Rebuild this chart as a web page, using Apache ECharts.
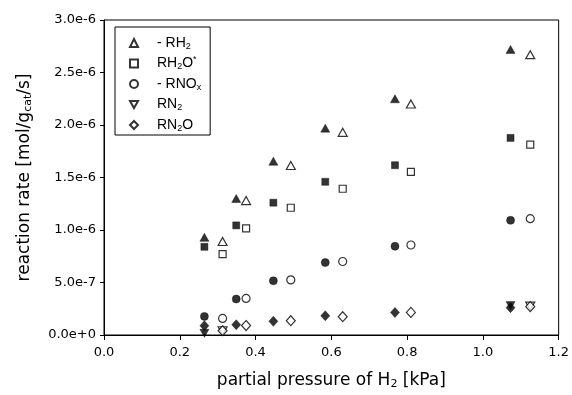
<!DOCTYPE html>
<html><head><meta charset="utf-8">
<script src="https://cdn.jsdelivr.net/npm/echarts@6/dist/echarts.min.js"></script>
<style>html,body{margin:0;padding:0;background:#fff}#c{width:572px;height:395px}</style>
</head><body><div id="c"></div>
<script>
// x positions (partial pressure of H2, kPa)
const xFilled = [0.265, 0.349, 0.447, 0.584, 0.768, 1.073];
const xOpen   = [0.313, 0.375, 0.493, 0.630, 0.810, 1.125];

// reaction rates (mol/gcat/s)
const rh2Filled  = [0.93e-6, 1.30e-6, 1.655e-6, 1.97e-6, 2.25e-6, 2.72e-6];
const rh2Open    = [0.89e-6, 1.28e-6, 1.614e-6, 1.93e-6, 2.20e-6, 2.67e-6];
const rh2oFilled = [0.84e-6, 1.044e-6, 1.26e-6, 1.459e-6, 1.617e-6, 1.877e-6];
const rh2oOpen   = [0.77e-6, 1.016e-6, 1.212e-6, 1.393e-6, 1.554e-6, 1.813e-6];
const rnoxFilled = [0.177e-6, 0.342e-6, 0.516e-6, 0.69e-6, 0.845e-6, 1.092e-6];
const rnoxOpen   = [0.158e-6, 0.348e-6, 0.525e-6, 0.70e-6, 0.857e-6, 1.108e-6];
const rn2oFilled = [0.088e-6, 0.098e-6, 0.13e-6, 0.183e-6, 0.215e-6, 0.26e-6];
const rn2oOpen   = [0.041e-6, 0.09e-6, 0.136e-6, 0.174e-6, 0.215e-6, 0.27e-6];
const rn2FilledX = [0.265, 1.073];
const rn2Filled  = [0.016e-6, 0.28e-6];
const rn2OpenX   = [0.313, 1.125];
const rn2Open    = [0.04e-6, 0.275e-6];

const xTickLabels = ['0.0', '0.2', '0.4', '0.6', '0.8', '1.0', '1.2'];
const yTickLabels = ['0.0e+0', '5.0e-7', '1.0e-6', '1.5e-6', '2.0e-6', '2.5e-6', '3.0e-6'];

const legendLabels = {
  rh2: '- RH{s|2}',
  rh2o: 'RH{s|2}O{p|*}',
  rnox: '- RNO{s|x}',
  rn2: 'RN{s|2}',
  rn2o: 'RN{s|2}O'
};

const FONT = 'Liberation Sans, Arial, Helvetica, sans-serif';
const AXFONT = 'DejaVu Sans, Liberation Sans, sans-serif';
const pairs = (xs, ys) => xs.map((x, i) => [x, ys[i]]);

const openStyle = { color: '#fff', borderColor: '#000', borderWidth: 1.2 };
const fillStyle = { color: '#000', borderColor: '#000', borderWidth: 0.5 };
const DOWN_TRI = 'path://M0,0 L10,0 L5,9 Z';

function sc(name, data, symbol, size, filled) {
  return {
    type: 'scatter', name: name, data: data, symbol: symbol, symbolSize: size,
    itemStyle: filled ? fillStyle : openStyle,
    emphasis: { disabled: true }, z: filled ? 3 : 4
  };
}

const series = [
  sc('rh2', pairs(xOpen, rh2Open), 'triangle', [9, 8], false),
  sc('rh2o', pairs(xOpen, rh2oOpen), 'rect', 7, false),
  sc('rnox', pairs(xOpen, rnoxOpen), 'circle', 8, false),
  sc('rn2', pairs(rn2OpenX, rn2Open), DOWN_TRI, [9, 8], false),
  sc('rn2o', pairs(xOpen, rn2oOpen), 'diamond', [9, 10], false),
  sc('f_rh2', pairs(xFilled, rh2Filled), 'triangle', [9, 8], true),
  sc('f_rh2o', pairs(xFilled, rh2oFilled), 'rect', 7, true),
  sc('f_rnox', pairs(xFilled, rnoxFilled), 'circle', 8, true),
  sc('f_rn2', pairs(rn2FilledX, rn2Filled), DOWN_TRI, [9, 8], true),
  sc('f_rn2o', pairs(xFilled, rn2oFilled), 'diamond', [9, 10], true)
];

const subRich = { s: { fontSize: 11, lineHeight: 8, verticalAlign: 'bottom', fontFamily: AXFONT } };

const chart = echarts.init(document.getElementById('c'), null, { renderer: 'canvas' });
chart.setOption({
  animation: false,
  backgroundColor: '#fff',
  textStyle: { fontFamily: FONT, color: '#000' },
  grid: { left: 104, right: 11, top: 20, bottom: 59, show: true, borderColor: '#000', borderWidth: 1, backgroundColor: 'transparent' },
  legend: {
    data: [
      { name: 'rh2', icon: 'triangle' },
      { name: 'rh2o', icon: 'rect' },
      { name: 'rnox', icon: 'circle' },
      { name: 'rn2', icon: DOWN_TRI },
      { name: 'rn2o', icon: 'diamond' }
    ],
    orient: 'vertical',
    left: 115, top: 27,
    padding: [8, 9, 2, 14],
    itemGap: 4.5,
    itemWidth: 8, itemHeight: 8,
    borderColor: '#000', borderWidth: 1,
    borderRadius: 0,
    backgroundColor: '#fff',
    selectedMode: false,
    formatter: n => legendLabels[n],
    textStyle: {
      fontFamily: FONT, fontSize: 14, color: '#000', lineHeight: 16,
      padding: [0, 0, 0, 14],
      rich: {
        s: { fontSize: 9, lineHeight: 7, verticalAlign: 'bottom', fontFamily: FONT },
        p: { fontSize: 9, lineHeight: 8, verticalAlign: 'top', fontFamily: FONT }
      }
    }
  },
  xAxis: {
    type: 'value', min: 0, max: 1.2, interval: 0.2,
    splitLine: { show: false },
    axisLine: { show: true, onZero: false, lineStyle: { color: '#000', width: 1 } },
    axisTick: { show: true, inside: false, length: 5, lineStyle: { color: '#000' } },
    axisLabel: {
      fontFamily: AXFONT, fontSize: 13, color: '#000', margin: 11,
      formatter: v => xTickLabels[Math.round(v / 0.2)]
    },
    name: 'partial pressure of H{s|2} [kPa]',
    nameLocation: 'middle', nameGap: 37,
    nameTextStyle: { fontFamily: AXFONT, fontSize: 17, lineHeight: 18, color: '#000', rich: subRich }
  },
  yAxis: {
    type: 'value', min: 0, max: 3e-6, interval: 5e-7,
    splitLine: { show: false },
    axisLine: { show: true, onZero: false, lineStyle: { color: '#000', width: 1 } },
    axisTick: { show: true, inside: false, length: 4, lineStyle: { color: '#000' } },
    axisLabel: {
      fontFamily: AXFONT, fontSize: 13, color: '#000', margin: 8,
      formatter: v => yTickLabels[Math.round(v / 5e-7)]
    },
    name: 'reaction rate [mol/g{s|cat}/s]',
    nameLocation: 'middle', nameGap: 70,
    nameTextStyle: { fontFamily: AXFONT, fontSize: 17, lineHeight: 18, color: '#000', rich: subRich }
  },
  series: series
});
</script>
</body></html>
